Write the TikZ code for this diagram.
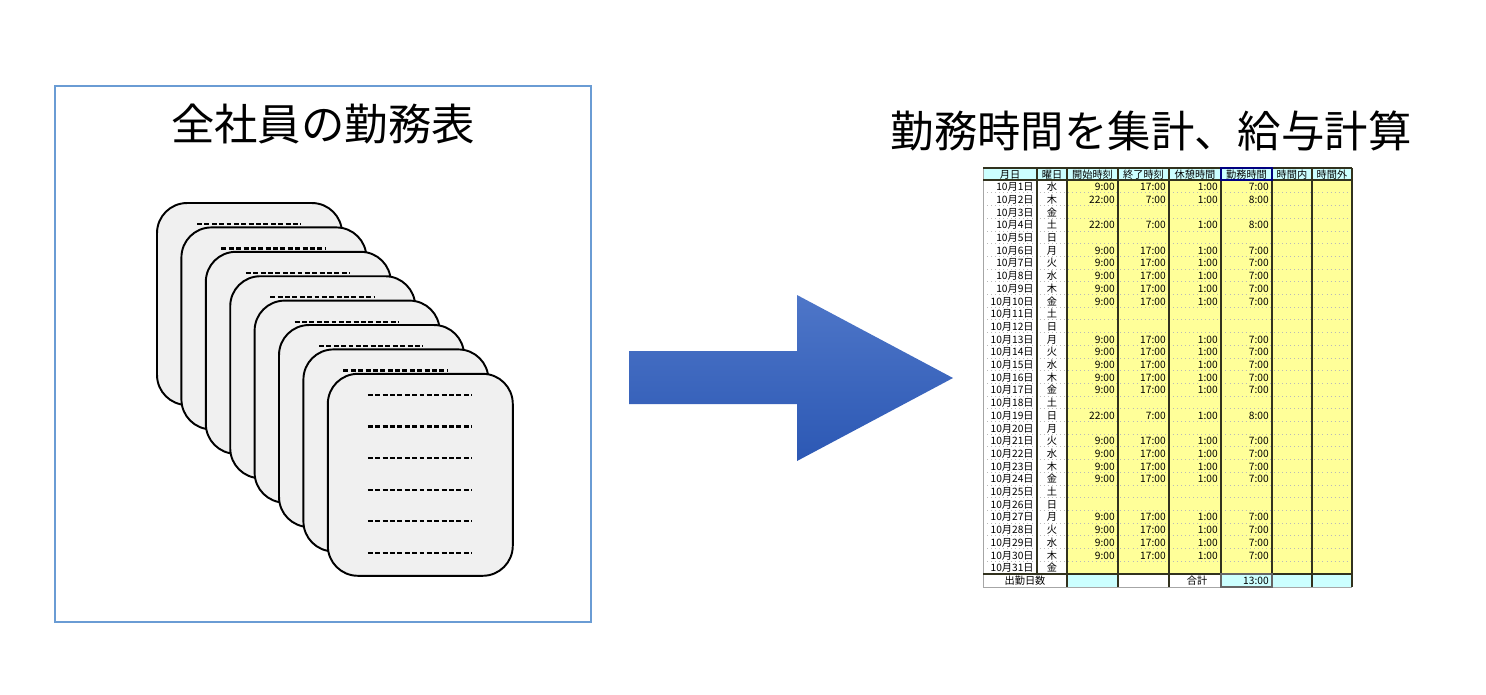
\documentclass[tikz,border=0pt]{standalone}
\usepackage{fontspec}
\setmainfont{Noto Sans CJK JP}
\usetikzlibrary{positioning, calc}
\definecolor{frameblue}{RGB}{106,156,212}
\definecolor{cardgray}{RGB}{240,240,240}
\definecolor{arrowtop}{RGB}{78,118,200}
\definecolor{arrowbot}{RGB}{44,88,180}
\definecolor{headcyan}{RGB}{204,255,255}
\definecolor{cellyellow}{RGB}{255,255,153}
\definecolor{gridline}{RGB}{50,50,30}

\begin{document}
\begin{tikzpicture}[x=0.02cm, y=-0.02cm,
  title/.style={font=\fontsize{24.7}{28}\selectfont, inner sep=0pt},
  card/.style={draw=black, line width=1.1pt, fill=cardgray, rounded corners=0.6cm,
               minimum width=3.7cm, minimum height=4.04cm},
  dashline/.style={line width=1.2pt, dash pattern=on 2.8pt off 1.4pt},
  cell/.style={font=\fontsize{5.8}{6}\selectfont, inner sep=0pt, text height=4.8pt, text depth=1pt},
  headcell/.style={cell, anchor=center},
  rowline/.style={gray!55, line width=0.3pt, dotted},
  colline/.style={gridline, line width=0.9pt},
]

\useasboundingbox (0,0) rectangle (1486,694);

\node[draw=frameblue, line width=0.9pt, minimum width=10.72cm, minimum height=10.72cm] (listframe) at (323,354) {};
\node[title] (listtitle) at (323,124) {全社員の勤務表};

\foreach \i in {0,...,7} {
  \node[card] (card\i) at ({249.5+24.4*\i},{304+24.4*\i}) {};
  \foreach \j in {0,...,5}
    \draw[dashline] ($(card\i.north west)+(41,{22+31.6*\j})$) -- ++(104,0);
}

\shade[top color=arrowtop, bottom color=arrowbot]
  (629,351) -- (797,351) -- (797,295) -- (953,378) -- (797,461) -- (797,404) -- (629,404) -- cycle;

\node[title] (calctitle) at (1151,131) {勤務時間を集計、給与計算};

\fill[headcyan] (983,168) rectangle (1352,180);
\fill[cellyellow] (1067,180) rectangle (1352,573.7);
\fill[headcyan] (1067,573.7) rectangle (1118,587);
\fill[headcyan] (1221,573.7) rectangle (1352,587);

\foreach \row in {1,...,30}
  \draw[rowline] (983,{180+12.7*\row}) -- (1352,{180+12.7*\row});
\draw[gray!70, line width=0.5pt] (983,168) -- (983,587);
\draw[colline] (1037,168) -- (1037,573.7);
\foreach \xc in {1067,1118,1169,1221,1272,1312,1352}
  \draw[colline] (\xc,168) -- (\xc,587);
\draw[colline] (983,168) -- (1352,168);
\draw[colline] (983,180) -- (1352,180);
\draw[colline] (983,573.7) -- (1352,573.7);
\draw[gray!70, line width=0.5pt] (983,587) -- (1352,587);
\draw[blue!50!black, line width=0.7pt] (1221,168) rectangle (1272,180);
\draw[black!60, line width=1pt] (1221,573.7) rectangle (1272,587);

\foreach \col/\xl/\xr/\lab in {1/983/1037/月日, 2/1037/1067/曜日, 3/1067/1118/開始時刻, 4/1118/1169/終了時刻,
    5/1169/1221/休憩時間, 6/1221/1272/勤務時間, 7/1272/1312/時間内, 8/1312/1352/時間外}
  \node[headcell] (head\col) at ({(\xl+\xr)/2},174.8) {\lab};

\foreach \row/\wday/\tin/\tout/\tbrk/\twork in {
    1/水/9:00/17:00/1:00/7:00, 2/木/22:00/7:00/1:00/8:00, 3/金/{}/{}/{}/{},
    4/土/22:00/7:00/1:00/8:00, 5/日/{}/{}/{}/{}, 6/月/9:00/17:00/1:00/7:00,
    7/火/9:00/17:00/1:00/7:00, 8/水/9:00/17:00/1:00/7:00, 9/木/9:00/17:00/1:00/7:00,
    10/金/9:00/17:00/1:00/7:00, 11/土/{}/{}/{}/{}, 12/日/{}/{}/{}/{},
    13/月/9:00/17:00/1:00/7:00, 14/火/9:00/17:00/1:00/7:00, 15/水/9:00/17:00/1:00/7:00,
    16/木/9:00/17:00/1:00/7:00, 17/金/9:00/17:00/1:00/7:00, 18/土/{}/{}/{}/{},
    19/日/22:00/7:00/1:00/8:00, 20/月/{}/{}/{}/{}, 21/火/9:00/17:00/1:00/7:00,
    22/水/9:00/17:00/1:00/7:00, 23/木/9:00/17:00/1:00/7:00, 24/金/9:00/17:00/1:00/7:00,
    25/土/{}/{}/{}/{}, 26/日/{}/{}/{}/{}, 27/月/9:00/17:00/1:00/7:00,
    28/火/9:00/17:00/1:00/7:00, 29/水/9:00/17:00/1:00/7:00, 30/木/9:00/17:00/1:00/7:00,
    31/金/{}/{}/{}/{}} {
  \pgfmathsetmacro\yy{187.4+12.7*(\row-1)}
  \node[cell, anchor=east] (date\row) at (1034,\yy) {10月{\row}日};
  \node[cell] (day\row) at (1052,\yy) {\wday};
  \node[cell, anchor=east] (start\row) at (1115,\yy) {\tin};
  \node[cell, anchor=east] (end\row) at (1166,\yy) {\tout};
  \node[cell, anchor=east] (rest\row) at (1218,\yy) {\tbrk};
  \node[cell, anchor=east] (work\row) at (1269,\yy) {\twork};
}

\node[cell] (daycount) at (1025,581.2) {出勤日数};
\node[cell] (sumlabel) at (1197,581.2) {合計};
\node[cell, anchor=east] (sumwork) at (1269,581.2) {13:00};

\end{tikzpicture}
\end{document}
